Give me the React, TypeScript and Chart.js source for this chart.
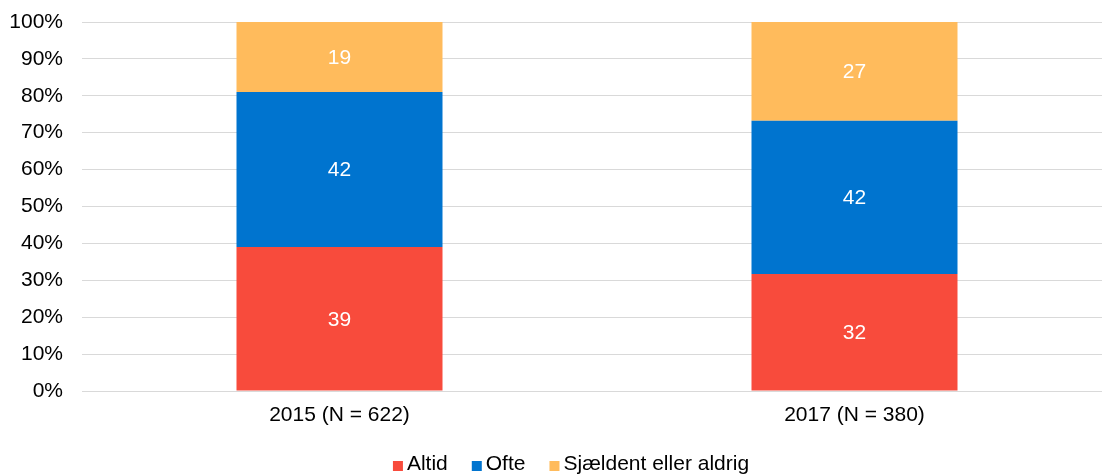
import React, { useEffect, useRef } from "react";
import { Chart, registerables } from "chart.js";

Chart.register(...registerables);

const categories = ["2015 (N = 622)", "2017 (N = 380)"];
const seriesNames = ["Altid", "Ofte", "Sjældent eller aldrig"];
const altid = [39, 32];
const ofte = [42, 42];
const sjaeldent = [19, 27];
const colors = ["#F84B3C", "#0074CF", "#FFBB5C"];
const yTicks = [0, 10, 20, 30, 40, 50, 60, 70, 80, 90, 100];

const FONT = "'Liberation Sans', Arial, sans-serif";
const FS = 21;

export default function App() {
  const ref = useRef<HTMLCanvasElement | null>(null);
  useEffect(() => {
    document.body.style.margin = "0";
    const raw = [altid, ofte, sjaeldent];
    const totals = categories.map((_, i) => raw.reduce((s, arr) => s + arr[i], 0));
    const pct = raw.map((arr) => arr.map((v, i) => (v / totals[i]) * 100));

    const labelPlugin = {
      id: "barLabels",
      afterDatasetsDraw(chart: any) {
        const ctx = chart.ctx;
        ctx.save();
        ctx.fillStyle = "#FFFFFF";
        ctx.font = `${FS}px ${FONT}`;
        ctx.textAlign = "center";
        ctx.textBaseline = "middle";
        chart.data.datasets.forEach((ds: any, di: number) => {
          const meta = chart.getDatasetMeta(di);
          meta.data.forEach((el: any, i: number) => {
            const y = (el.y + el.base) / 2;
            ctx.fillText(String(raw[di][i]), el.x, y + 1);
          });
        });
        ctx.restore();
      },
    };

    const legendPlugin = {
      id: "customLegend",
      afterDraw(chart: any) {
        const ctx = chart.ctx;
        ctx.save();
        ctx.font = `${FS}px ${FONT}`;
        ctx.textBaseline = "middle";
        ctx.textAlign = "left";
        const box = 10;
        const gap = 4;
        const itemGap = 24;
        const widths = seriesNames.map((n) => box + gap + ctx.measureText(n).width);
        const total = widths.reduce((a, b) => a + b, 0) + itemGap * (seriesNames.length - 1);
        const cy = 464;
        let x = 571 - total / 2;
        seriesNames.forEach((n, k) => {
          ctx.fillStyle = colors[k];
          ctx.fillRect(x, cy - box / 2 + 2, box, box);
          ctx.fillStyle = "#000";
          ctx.fillText(n, x + box + gap, cy);
          x += widths[k] + itemGap;
        });
        ctx.restore();
      },
    };

    const chart = new Chart(ref.current!, {
      type: "bar",
      data: {
        labels: categories,
        datasets: seriesNames.map((name, k) => ({
          label: name,
          data: pct[k],
          backgroundColor: colors[k],
          barPercentage: 0.4,
          categoryPercentage: 1,
          borderWidth: 0,
        })),
      },
      options: {
        responsive: false,
        animation: false,
        layout: { padding: { top: 22, right: 0, bottom: 34, left: 0 } },
        plugins: {
          legend: { display: false },
          tooltip: { enabled: false },
        },
        scales: {
          x: {
            stacked: true,
            grid: { display: false, drawTicks: false },
            border: { display: true, color: "#D9D9D9", width: 1 },
            ticks: { font: { family: FONT, size: FS }, color: "#000", padding: 12 },
            afterFit: (s: any) => {
              s.height = 50;
              s.paddingLeft = 0;
              s.paddingRight = 0;
            },
          },
          y: {
            stacked: true,
            min: 0,
            max: 100,
            afterBuildTicks: (s: any) => {
              s.ticks = yTicks.map((v) => ({ value: v }));
            },
            grid: { color: "#D9D9D9", drawTicks: false },
            border: { display: false },
            ticks: {
              font: { family: FONT, size: FS },
              color: "#000",
              padding: 19,
              callback: (v: any) => `${v}%`,
            },
            afterFit: (s: any) => {
              s.width = 82;
              s.paddingTop = 0;
              s.paddingBottom = 0;
            },
          },
        },
      },
      plugins: [labelPlugin, legendPlugin],
    });
    return () => chart.destroy();
  }, []);
  return (
    <div style={{ width: 1102, height: 475, overflow: "hidden" }}>
      <canvas ref={ref} width={1112} height={475} style={{ display: "block" }} />
    </div>
  );
}
